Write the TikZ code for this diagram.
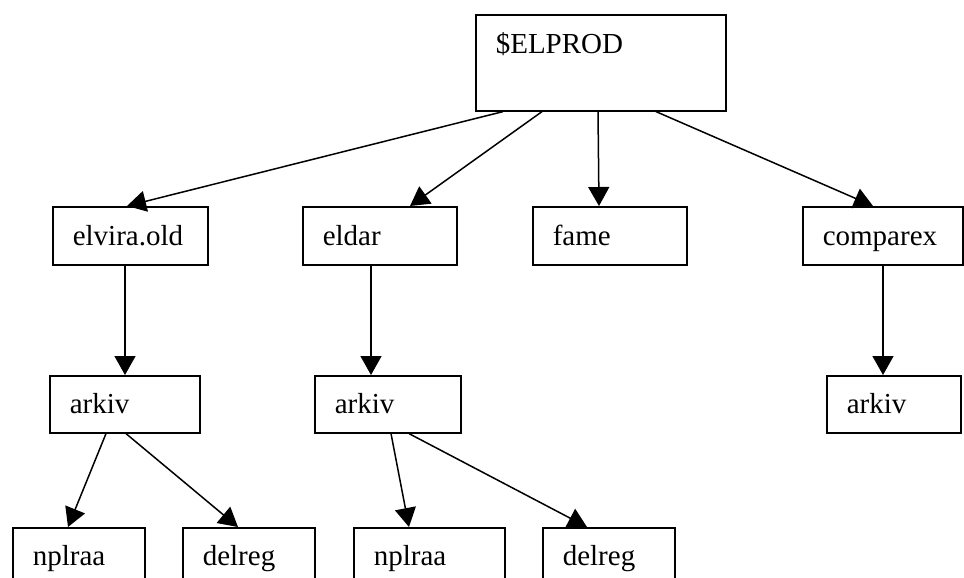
\documentclass[tikz,border=0pt]{standalone}
\usepackage{fontspec}
\setmainfont{Liberation Serif}
\usetikzlibrary{arrows.meta,positioning}
\tikzset{
	x=1pt, y=-1pt, % pixel units, y runs downwards
	box/.style={draw, line width=1.6pt, anchor=north west, align=left, inner xsep=20pt, inner ysep=0pt, text height=39pt, text depth=19pt, font=\fontsize{29}{34}\selectfont}, % left aligned text box
	link/.style={-{Triangle[length=19pt,width=21pt]}, line width=1.5pt}, % filled arrow head
}
\begin{document}
\begin{tikzpicture}
	\clip (0,0) rectangle (964,578);
	
	\node[box,text width=210pt,text depth=57pt] (elprod) at (475,14) {\$ELPROD};
	
	\node[box,text width=115pt] (elvira) at (52,206) {elvira.old};
	\node[box,text width=114pt] (eldar) at (302,206) {eldar};
	\node[box,text width=114pt] (fame) at (532,206) {fame};
	\node[box,text width=120pt] (comparex) at (802,206) {comparex};
	
	\node[box,text width=110pt,text height=38pt] (arkivA) at (49,375) {arkiv};
	\node[box,text width=106pt,text height=38pt] (arkivB) at (314,375) {arkiv};
	\node[box,text width=94pt,text height=38pt] (arkivC) at (826,375) {arkiv};
	
	\node[box,text width=92pt,text height=38pt] (nplraaA) at (12,527) {nplraa};
	\node[box,text width=92pt,text height=38pt] (delregA) at (182,527) {delreg};
	\node[box,text width=111pt,text height=38pt] (nplraaB) at (353,527) {nplraa};
	\node[box,text width=92pt,text height=38pt] (delregB) at (542,527) {delreg};
	
	\draw[link] ([xshift=28pt]elprod.south west) -- ([xshift=75pt]elvira.north west);
	\draw[link] ([xshift=67pt]elprod.south west) -- ([xshift=108pt]eldar.north west);
	\draw[link] ([xshift=123pt]elprod.south west) -- ([xshift=67pt]fame.north west);
	\draw[link] ([xshift=181pt]elprod.south west) -- ([xshift=71pt]comparex.north west);
	
	\draw[link] ([xshift=73pt]elvira.south west) -- ([xshift=76pt]arkivA.north west);
	\draw[link] ([xshift=69pt]eldar.south west) -- ([xshift=57pt]arkivB.north west);
	\draw[link] ([xshift=81pt]comparex.south west) -- ([xshift=57pt]arkivC.north west);
	
	\draw[link] ([xshift=57pt]arkivA.south west) -- ([xshift=56pt]nplraaA.north west);
	\draw[link] ([xshift=77pt]arkivA.south west) -- ([xshift=56pt]delregA.north west);
	\draw[link] ([xshift=77pt]arkivB.south west) -- ([xshift=56pt]nplraaB.north west);
	\draw[link] ([xshift=95pt]arkivB.south west) -- ([xshift=45pt]delregB.north west);
\end{tikzpicture}
\end{document}
